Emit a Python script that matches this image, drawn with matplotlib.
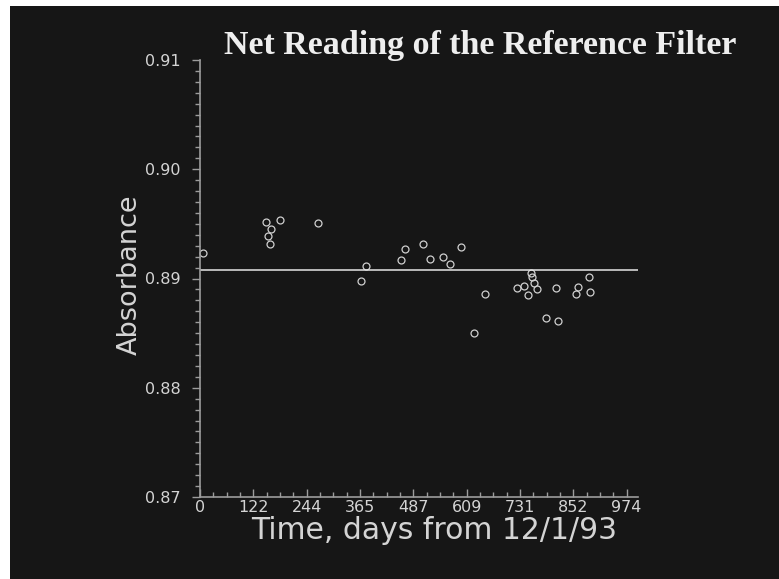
import numpy as np
import matplotlib
matplotlib.use('Agg')
import matplotlib.pyplot as plt
from matplotlib.patches import Rectangle
from matplotlib.ticker import MultipleLocator, FixedLocator

# readings
days = [6, 151, 183, 162, 155, 159, 270, 368, 378, 459, 469, 510, 526, 555, 571,
        595, 626, 650, 723, 740, 748, 755, 758, 763, 769, 789, 812, 817, 859, 862,
        888, 891]
absorb = [0.8923, 0.8952, 0.8954, 0.8945, 0.8939, 0.8932, 0.8951, 0.8898, 0.8911,
          0.8917, 0.8927, 0.8932, 0.8918, 0.8920, 0.8913, 0.8929, 0.8850, 0.8886,
          0.8891, 0.8893, 0.8885, 0.8905, 0.8901, 0.8896, 0.8890, 0.8864, 0.8891,
          0.8861, 0.8886, 0.8892, 0.8901, 0.8888]
mean_level = 0.89078
xtick_pos = [0, 121.75, 243.5, 365.25, 487, 608.75, 730.5, 852.25, 974]
xtick_lab = ['0', '122', '244', '365', '487', '609', '731', '852', '974']

W, H = 779, 579
fig = plt.figure(figsize=(W / 100, H / 100), dpi=100, facecolor='white')
fig.patches.append(Rectangle((10 / W, 0), 1, 1 - 6 / H, transform=fig.transFigure,
                             facecolor='#161616', edgecolor='none', zorder=-5))

ax = fig.add_axes([200 / W, (H - 497) / H, 438 / W, 437 / H])
ax.set_facecolor('none')
axis_col = '#9c9c9c'
text_col = '#d4d4d4'

ax.plot(days, absorb, 'o', ms=5, mfc='none', mec='#cfcfcf', mew=0.9, clip_on=False)
ax.axhline(mean_level, color='#e6e6e6', lw=1.1)

ax.set_xlim(0, 1000)
ax.set_ylim(0.87, 0.91)
for s in ['top', 'right']:
    ax.spines[s].set_visible(False)
for s in ['left', 'bottom']:
    ax.spines[s].set_color(axis_col)
    ax.spines[s].set_linewidth(1.2)

ax.yaxis.set_major_locator(MultipleLocator(0.01))
ax.yaxis.set_minor_locator(MultipleLocator(0.001))
ax.yaxis.set_major_formatter(lambda v, p: '%.2f' % v)
ax.xaxis.set_major_locator(FixedLocator(xtick_pos))
ax.xaxis.set_minor_locator(FixedLocator(np.arange(0, 975, 121.75 / 4)))
ax.set_xticklabels(xtick_lab)

ax.tick_params(axis='y', which='major', direction='out', length=6, width=1,
               color=axis_col, labelcolor=text_col, labelsize=11.5, pad=8)
ax.tick_params(axis='y', which='minor', direction='out', length=3.6, width=1,
               color=axis_col)
ax.tick_params(axis='x', which='major', direction='in', length=6, width=1,
               color=axis_col, labelcolor=text_col, labelsize=11.5, pad=2)
ax.tick_params(axis='x', which='minor', direction='in', length=3.8, width=1,
               color=axis_col)

ax.set_xlabel('Time, days from 12/1/93', fontsize=21.5, color=text_col, va='top')
ax.xaxis.set_label_coords(0.534, -0.043)
ax.set_ylabel('Absorbance', fontsize=19.5, color=text_col, va='center')
ax.yaxis.set_label_coords(-0.16, 0.508)

fig.text(480 / W, 1 - 54 / H, 'Net Reading of the Reference Filter',
         family='Liberation Serif', weight='bold', fontsize=24.5, color='#eeeeee',
         ha='center', va='baseline')

fig.savefig('out.png', dpi=100, facecolor=fig.get_facecolor())
